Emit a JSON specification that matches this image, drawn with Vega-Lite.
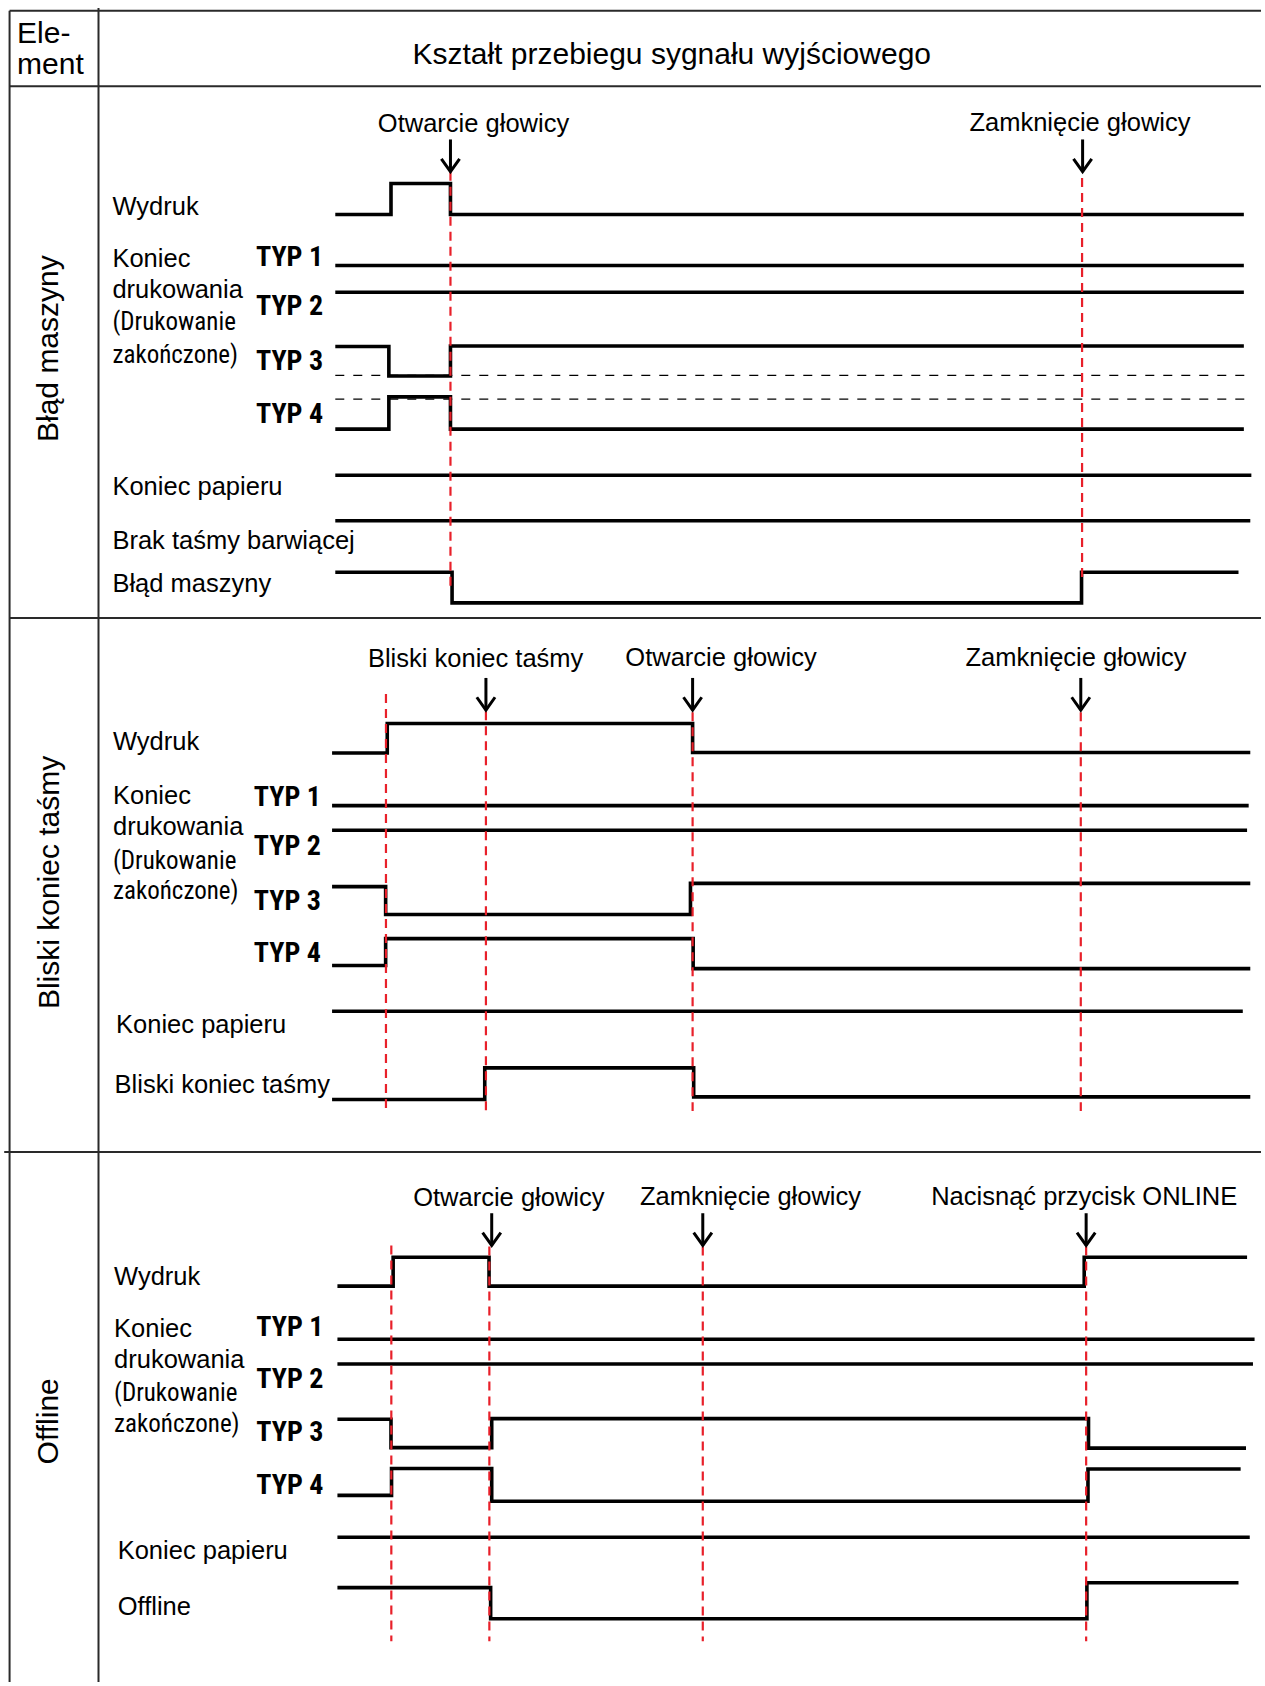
{
  "$schema": "https://vega.github.io/schema/vega-lite/v6.json",
  "width": 1265,
  "height": 1686,
  "autosize": {"type": "fit", "contains": "padding"},
  "padding": 0,
  "background": "white",
  "config": {"view": {"stroke": null}},
  "datasets": {
    "table": [
      {"id": "top", "o": 0, "x": 8, "y": 10}, {"id": "top", "o": 1, "x": 1176, "y": 10},
      {"id": "head", "o": 0, "x": 8, "y": 80.5}, {"id": "head", "o": 1, "x": 1176, "y": 80.5},
      {"id": "div1", "o": 0, "x": 8, "y": 576}, {"id": "div1", "o": 1, "x": 1176, "y": 576},
      {"id": "div2", "o": 0, "x": 3, "y": 1074}, {"id": "div2", "o": 1, "x": 1176, "y": 1074},
      {"id": "left", "o": 0, "x": 8, "y": 10}, {"id": "left", "o": 1, "x": 8, "y": 1568},
      {"id": "mid", "o": 0, "x": 91, "y": 7.5}, {"id": "mid", "o": 1, "x": 91, "y": 1568}
    ],
    "waves": [
      {"id": "p1w", "o": 0, "x": 312, "y": 200}, {"id": "p1w", "o": 1, "x": 364, "y": 200}, {"id": "p1w", "o": 2, "x": 364, "y": 171}, {"id": "p1w", "o": 3, "x": 419.5, "y": 171}, {"id": "p1w", "o": 4, "x": 419.5, "y": 200}, {"id": "p1w", "o": 5, "x": 1160, "y": 200},
      {"id": "p1t1", "o": 0, "x": 312, "y": 247.5}, {"id": "p1t1", "o": 1, "x": 1160, "y": 247.5},
      {"id": "p1t2", "o": 0, "x": 312, "y": 272.5}, {"id": "p1t2", "o": 1, "x": 1160, "y": 272.5},
      {"id": "p1t3", "o": 0, "x": 312, "y": 323}, {"id": "p1t3", "o": 1, "x": 362, "y": 323}, {"id": "p1t3", "o": 2, "x": 362, "y": 350.5}, {"id": "p1t3", "o": 3, "x": 419.5, "y": 350.5}, {"id": "p1t3", "o": 4, "x": 419.5, "y": 322.5}, {"id": "p1t3", "o": 5, "x": 1160, "y": 322.5},
      {"id": "p1t4", "o": 0, "x": 312, "y": 400}, {"id": "p1t4", "o": 1, "x": 362, "y": 400}, {"id": "p1t4", "o": 2, "x": 362, "y": 370}, {"id": "p1t4", "o": 3, "x": 419.5, "y": 370}, {"id": "p1t4", "o": 4, "x": 419.5, "y": 400}, {"id": "p1t4", "o": 5, "x": 1160, "y": 400},
      {"id": "p1kp", "o": 0, "x": 312, "y": 443}, {"id": "p1kp", "o": 1, "x": 1167, "y": 443},
      {"id": "p1bt", "o": 0, "x": 312, "y": 485.5}, {"id": "p1bt", "o": 1, "x": 1166, "y": 485.5},
      {"id": "p1bm", "o": 0, "x": 312, "y": 533.5}, {"id": "p1bm", "o": 1, "x": 421, "y": 533.5}, {"id": "p1bm", "o": 2, "x": 421, "y": 562}, {"id": "p1bm", "o": 3, "x": 1008.5, "y": 562}, {"id": "p1bm", "o": 4, "x": 1008.5, "y": 533.5}, {"id": "p1bm", "o": 5, "x": 1155, "y": 533.5},

      {"id": "p2w", "o": 0, "x": 309, "y": 702}, {"id": "p2w", "o": 1, "x": 360.5, "y": 702}, {"id": "p2w", "o": 2, "x": 360.5, "y": 674.5}, {"id": "p2w", "o": 3, "x": 645.5, "y": 674.5}, {"id": "p2w", "o": 4, "x": 645.5, "y": 701.5}, {"id": "p2w", "o": 5, "x": 1166, "y": 701.5},
      {"id": "p2t1", "o": 0, "x": 309, "y": 751}, {"id": "p2t1", "o": 1, "x": 1164.5, "y": 751},
      {"id": "p2t2", "o": 0, "x": 309, "y": 774}, {"id": "p2t2", "o": 1, "x": 1163, "y": 774},
      {"id": "p2t3", "o": 0, "x": 309, "y": 826.5}, {"id": "p2t3", "o": 1, "x": 359, "y": 826.5}, {"id": "p2t3", "o": 2, "x": 359, "y": 852.5}, {"id": "p2t3", "o": 3, "x": 643.5, "y": 852.5}, {"id": "p2t3", "o": 4, "x": 643.5, "y": 823.5}, {"id": "p2t3", "o": 5, "x": 1166, "y": 823.5},
      {"id": "p2t4", "o": 0, "x": 309, "y": 900}, {"id": "p2t4", "o": 1, "x": 359, "y": 900}, {"id": "p2t4", "o": 2, "x": 359, "y": 875}, {"id": "p2t4", "o": 3, "x": 646, "y": 875}, {"id": "p2t4", "o": 4, "x": 646, "y": 903}, {"id": "p2t4", "o": 5, "x": 1166, "y": 903},
      {"id": "p2kp", "o": 0, "x": 309, "y": 942.7}, {"id": "p2kp", "o": 1, "x": 1159, "y": 942.7},
      {"id": "p2bk", "o": 0, "x": 309, "y": 1025}, {"id": "p2bk", "o": 1, "x": 451.5, "y": 1025}, {"id": "p2bk", "o": 2, "x": 451.5, "y": 995.5}, {"id": "p2bk", "o": 3, "x": 646.5, "y": 995.5}, {"id": "p2bk", "o": 4, "x": 646.5, "y": 1022.5}, {"id": "p2bk", "o": 5, "x": 1166, "y": 1022.5},

      {"id": "p3w", "o": 0, "x": 314, "y": 1199}, {"id": "p3w", "o": 1, "x": 366, "y": 1199}, {"id": "p3w", "o": 2, "x": 366, "y": 1172}, {"id": "p3w", "o": 3, "x": 455.5, "y": 1172}, {"id": "p3w", "o": 4, "x": 455.5, "y": 1199}, {"id": "p3w", "o": 5, "x": 1011, "y": 1199}, {"id": "p3w", "o": 6, "x": 1011, "y": 1172}, {"id": "p3w", "o": 7, "x": 1163, "y": 1172},
      {"id": "p3t1", "o": 0, "x": 314, "y": 1248.5}, {"id": "p3t1", "o": 1, "x": 1170, "y": 1248.5},
      {"id": "p3t2", "o": 0, "x": 314, "y": 1271.5}, {"id": "p3t2", "o": 1, "x": 1168.5, "y": 1271.5},
      {"id": "p3t3", "o": 0, "x": 314, "y": 1323}, {"id": "p3t3", "o": 1, "x": 364, "y": 1323}, {"id": "p3t3", "o": 2, "x": 364, "y": 1349.5}, {"id": "p3t3", "o": 3, "x": 458, "y": 1349.5}, {"id": "p3t3", "o": 4, "x": 458, "y": 1322.5}, {"id": "p3t3", "o": 5, "x": 1015, "y": 1322.5}, {"id": "p3t3", "o": 6, "x": 1015, "y": 1350}, {"id": "p3t3", "o": 7, "x": 1162, "y": 1350},
      {"id": "p3t4", "o": 0, "x": 314, "y": 1394}, {"id": "p3t4", "o": 1, "x": 364.5, "y": 1394}, {"id": "p3t4", "o": 2, "x": 364.5, "y": 1369}, {"id": "p3t4", "o": 3, "x": 458, "y": 1369}, {"id": "p3t4", "o": 4, "x": 458, "y": 1399.5}, {"id": "p3t4", "o": 5, "x": 1014.5, "y": 1399.5}, {"id": "p3t4", "o": 6, "x": 1014.5, "y": 1369.5}, {"id": "p3t4", "o": 7, "x": 1157, "y": 1369.5},
      {"id": "p3kp", "o": 0, "x": 314, "y": 1433}, {"id": "p3kp", "o": 1, "x": 1165.5, "y": 1433},
      {"id": "p3of", "o": 0, "x": 314, "y": 1480}, {"id": "p3of", "o": 1, "x": 457, "y": 1480}, {"id": "p3of", "o": 2, "x": 457, "y": 1509}, {"id": "p3of", "o": 3, "x": 1013.5, "y": 1509}, {"id": "p3of", "o": 4, "x": 1013.5, "y": 1475.5}, {"id": "p3of", "o": 5, "x": 1155, "y": 1475.5}
    ],
    "markers": [
      {"id": "m11", "o": 0, "x": 419.5, "y": 160}, {"id": "m11", "o": 1, "x": 419.5, "y": 548},
      {"id": "m12", "o": 0, "x": 1009, "y": 166}, {"id": "m12", "o": 1, "x": 1009, "y": 540},
      {"id": "m21", "o": 0, "x": 359.3, "y": 647}, {"id": "m21", "o": 1, "x": 359.3, "y": 1035.6},
      {"id": "m22", "o": 0, "x": 452.6, "y": 663}, {"id": "m22", "o": 1, "x": 452.6, "y": 1035.6},
      {"id": "m23", "o": 0, "x": 645.5, "y": 664}, {"id": "m23", "o": 1, "x": 645.5, "y": 1035.6},
      {"id": "m24", "o": 0, "x": 1007.8, "y": 664}, {"id": "m24", "o": 1, "x": 1007.8, "y": 1035.6},
      {"id": "m31", "o": 0, "x": 364.3, "y": 1161}, {"id": "m31", "o": 1, "x": 364.3, "y": 1530},
      {"id": "m32", "o": 0, "x": 455.8, "y": 1162}, {"id": "m32", "o": 1, "x": 455.8, "y": 1530},
      {"id": "m33", "o": 0, "x": 655, "y": 1162}, {"id": "m33", "o": 1, "x": 655, "y": 1530},
      {"id": "m34", "o": 0, "x": 1012.8, "y": 1162}, {"id": "m34", "o": 1, "x": 1012.8, "y": 1530}
    ],
    "levels": [
      {"id": "d1", "o": 0, "x": 312, "y": 350}, {"id": "d1", "o": 1, "x": 1162, "y": 350},
      {"id": "d2", "o": 0, "x": 312, "y": 372}, {"id": "d2", "o": 1, "x": 1162, "y": 372}
    ],
    "arrows": [
      {"id": "a11s", "o": 0, "x": 419.5, "y": 130}, {"id": "a11s", "o": 1, "x": 419.5, "y": 160},
      {"id": "a11h", "o": 0, "x": 411, "y": 148}, {"id": "a11h", "o": 1, "x": 419.5, "y": 160}, {"id": "a11h", "o": 2, "x": 428, "y": 148},
      {"id": "a12s", "o": 0, "x": 1009.5, "y": 130}, {"id": "a12s", "o": 1, "x": 1009.5, "y": 160},
      {"id": "a12h", "o": 0, "x": 1001, "y": 148}, {"id": "a12h", "o": 1, "x": 1009.5, "y": 160}, {"id": "a12h", "o": 2, "x": 1018, "y": 148},
      {"id": "a21s", "o": 0, "x": 452.6, "y": 632}, {"id": "a21s", "o": 1, "x": 452.6, "y": 662},
      {"id": "a21h", "o": 0, "x": 444.1, "y": 650}, {"id": "a21h", "o": 1, "x": 452.6, "y": 662}, {"id": "a21h", "o": 2, "x": 461.1, "y": 650},
      {"id": "a22s", "o": 0, "x": 645.5, "y": 632}, {"id": "a22s", "o": 1, "x": 645.5, "y": 662},
      {"id": "a22h", "o": 0, "x": 637, "y": 650}, {"id": "a22h", "o": 1, "x": 645.5, "y": 662}, {"id": "a22h", "o": 2, "x": 654, "y": 650},
      {"id": "a23s", "o": 0, "x": 1007.8, "y": 632}, {"id": "a23s", "o": 1, "x": 1007.8, "y": 662},
      {"id": "a23h", "o": 0, "x": 999.3, "y": 650}, {"id": "a23h", "o": 1, "x": 1007.8, "y": 662}, {"id": "a23h", "o": 2, "x": 1016.3, "y": 650},
      {"id": "a31s", "o": 0, "x": 458, "y": 1131}, {"id": "a31s", "o": 1, "x": 458, "y": 1161},
      {"id": "a31h", "o": 0, "x": 449.5, "y": 1149}, {"id": "a31h", "o": 1, "x": 458, "y": 1161}, {"id": "a31h", "o": 2, "x": 466.5, "y": 1149},
      {"id": "a32s", "o": 0, "x": 655, "y": 1131}, {"id": "a32s", "o": 1, "x": 655, "y": 1161},
      {"id": "a32h", "o": 0, "x": 646.5, "y": 1149}, {"id": "a32h", "o": 1, "x": 655, "y": 1161}, {"id": "a32h", "o": 2, "x": 663.5, "y": 1149},
      {"id": "a33s", "o": 0, "x": 1012.8, "y": 1131}, {"id": "a33s", "o": 1, "x": 1012.8, "y": 1161},
      {"id": "a33h", "o": 0, "x": 1004.3, "y": 1149}, {"id": "a33h", "o": 1, "x": 1012.8, "y": 1161}, {"id": "a33h", "o": 2, "x": 1021.3, "y": 1149}
    ],
    "headers": [
      {"t": "Ele-", "x": 15, "y": 40},
      {"t": "ment", "x": 15, "y": 69}
    ],
    "title": [
      {"t": "Kształt przebiegu sygnału wyjściowego", "x": 626, "y": 60}
    ],
    "sections": [
      {"t": "Błąd maszyny", "x": 45, "y": 325},
      {"t": "Bliski koniec taśmy", "x": 45.5, "y": 822.6},
      {"t": "Offline", "x": 45, "y": 1325}
    ],
    "events": [
      {"t": "Otwarcie głowicy", "x": 441, "y": 123},
      {"t": "Zamknięcie głowicy", "x": 1007, "y": 122.5},
      {"t": "Bliski koniec taśmy", "x": 443, "y": 621.5},
      {"t": "Otwarcie głowicy", "x": 672, "y": 621},
      {"t": "Zamknięcie głowicy", "x": 1003.4, "y": 621},
      {"t": "Otwarcie głowicy", "x": 474, "y": 1124.5},
      {"t": "Zamknięcie głowicy", "x": 699.5, "y": 1123.5},
      {"t": "Nacisnąć przycisk ONLINE", "x": 1011, "y": 1123.5}
    ],
    "signals": [
      {"t": "Wydruk", "x": 104, "y": 200},
      {"t": "Koniec", "x": 104, "y": 249},
      {"t": "drukowania", "x": 104, "y": 278},
      {"t": "Koniec papieru", "x": 104, "y": 461.5},
      {"t": "Brak taśmy barwiącej", "x": 104, "y": 512},
      {"t": "Błąd maszyny", "x": 104, "y": 551.5},
      {"t": "Wydruk", "x": 104.5, "y": 699},
      {"t": "Koniec", "x": 104.5, "y": 749.5},
      {"t": "drukowania", "x": 104.5, "y": 778.6},
      {"t": "Koniec papieru", "x": 107.4, "y": 963},
      {"t": "Bliski koniec taśmy", "x": 106, "y": 1019},
      {"t": "Wydruk", "x": 105.5, "y": 1198},
      {"t": "Koniec", "x": 105.5, "y": 1246},
      {"t": "drukowania", "x": 105.5, "y": 1275.6},
      {"t": "Koniec papieru", "x": 108.9, "y": 1453.7},
      {"t": "Offline", "x": 108.9, "y": 1506}
    ],
    "notes": [
      {"t": "(Drukowanie", "x": 104, "y": 308},
      {"t": "zakończone)", "x": 104, "y": 338},
      {"t": "(Drukowanie", "x": 104.5, "y": 810},
      {"t": "zakończone)", "x": 104.5, "y": 838.3},
      {"t": "(Drukowanie", "x": 105.5, "y": 1305.8},
      {"t": "zakończone)", "x": 105.5, "y": 1334.5}
    ],
    "types": [
      {"t": "TYP 1", "x": 238, "y": 248},
      {"t": "TYP 2", "x": 238, "y": 294},
      {"t": "TYP 3", "x": 238, "y": 345},
      {"t": "TYP 4", "x": 238, "y": 394},
      {"t": "TYP 1", "x": 236, "y": 751},
      {"t": "TYP 2", "x": 236, "y": 797.5},
      {"t": "TYP 3", "x": 236, "y": 848},
      {"t": "TYP 4", "x": 236, "y": 897},
      {"t": "TYP 1", "x": 238.3, "y": 1245.4},
      {"t": "TYP 2", "x": 238.3, "y": 1294},
      {"t": "TYP 3", "x": 238.3, "y": 1343},
      {"t": "TYP 4", "x": 238.3, "y": 1392.3}
    ]
  },
  "encoding": {
    "x": {"field": "x", "type": "quantitative", "axis": null, "scale": {"domain": [0, 1176], "nice": false, "zero": false}},
    "y": {"field": "y", "type": "quantitative", "axis": null, "scale": {"domain": [0, 1568], "nice": false, "zero": false, "reverse": true}}
  },
  "layer": [
    {
      "data": {"name": "table"},
      "mark": {"type": "line", "color": "#2a2a2a", "strokeWidth": 2, "clip": false},
      "encoding": {"detail": {"field": "id"}, "order": {"field": "o"}}
    },
    {
      "data": {"name": "levels"},
      "mark": {"type": "line", "color": "#000000", "strokeWidth": 1.2, "strokeDash": [9, 9]},
      "encoding": {"detail": {"field": "id"}, "order": {"field": "o"}}
    },
    {
      "data": {"name": "waves"},
      "mark": {"type": "line", "color": "#000000", "strokeWidth": 3.6, "strokeJoin": "miter"},
      "encoding": {"detail": {"field": "id"}, "order": {"field": "o"}}
    },
    {
      "data": {"name": "markers"},
      "mark": {"type": "line", "color": "#e8202a", "strokeWidth": 2.2, "strokeDash": [9, 6]},
      "encoding": {"detail": {"field": "id"}, "order": {"field": "o"}}
    },
    {
      "data": {"name": "arrows"},
      "mark": {"type": "line", "color": "#000000", "strokeWidth": 3, "strokeJoin": "miter"},
      "encoding": {"detail": {"field": "id"}, "order": {"field": "o"}}
    },
    {
      "data": {"name": "headers"},
      "mark": {"type": "text", "font": "Liberation Sans", "fontSize": 30, "align": "left", "baseline": "alphabetic", "color": "#000000"},
      "encoding": {"text": {"field": "t"}}
    },
    {
      "data": {"name": "title"},
      "mark": {"type": "text", "font": "Liberation Sans", "fontSize": 30, "align": "center", "baseline": "alphabetic", "color": "#000000"},
      "encoding": {"text": {"field": "t"}}
    },
    {
      "data": {"name": "sections"},
      "mark": {"type": "text", "font": "Liberation Sans", "fontSize": 30, "align": "center", "baseline": "middle", "angle": 270, "color": "#000000"},
      "encoding": {"text": {"field": "t"}}
    },
    {
      "data": {"name": "events"},
      "mark": {"type": "text", "font": "Liberation Sans", "fontSize": 25.5, "align": "center", "baseline": "alphabetic", "color": "#000000"},
      "encoding": {"text": {"field": "t"}}
    },
    {
      "data": {"name": "signals"},
      "mark": {"type": "text", "font": "Liberation Sans", "fontSize": 25.5, "align": "left", "baseline": "alphabetic", "color": "#000000"},
      "encoding": {"text": {"field": "t"}}
    },
    {
      "data": {"name": "notes"},
      "mark": {"type": "text", "font": "Roboto Condensed", "fontSize": 25, "align": "left", "baseline": "alphabetic", "color": "#000000"},
      "encoding": {"text": {"field": "t"}}
    },
    {
      "data": {"name": "types"},
      "mark": {"type": "text", "font": "Roboto Condensed", "fontSize": 28, "fontWeight": "bold", "align": "left", "baseline": "alphabetic", "color": "#000000"},
      "encoding": {"text": {"field": "t"}}
    }
  ]
}
